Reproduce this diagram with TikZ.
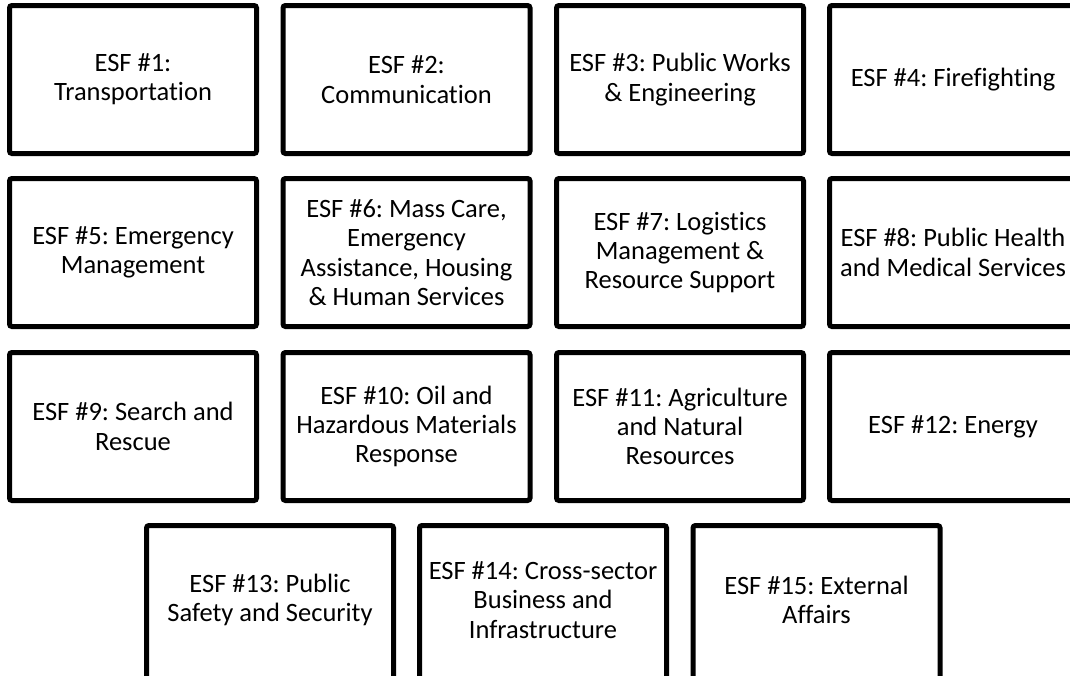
\documentclass[tikz,border=0pt]{standalone}
\usepackage{fontspec}
\setmainfont{Carlito}[Ligatures={NoCommon}]
\begin{document}
\frenchspacing
\begin{tikzpicture}[x=1pt,y=-1pt,
  esffont/.style={align=center, font=\fontsize{26.5}{29.3}\selectfont},
  esfbox/.style={draw=black, line width=5pt, rounded corners=2.5pt,
    minimum width=247pt, minimum height=148pt, inner sep=0pt, outer sep=0pt,
    esffont},
  esflow/.style={esfbox, minimum height=155pt},
  esftext/.style={esffont, inner sep=0pt}]
\useasboundingbox (0,0) rectangle (1070,675);
\fill[white] (0,0) rectangle (1070,675);
\begin{scope}
\clip (0,0) rectangle (1070,675);
% row 1
\node[esfbox] (e1) at (133,79.5) {ESF \#1:\\Transportation};
\node[esfbox] (e2) at (406.5,79.5) {ESF \#2:\\Communication};
\node[esfbox] (e3) at (680,79.5) {ESF \#3: Public Works\\\& Engineering};
\node[esfbox] (e4) at (953,79.5) {ESF \#4: Firefighting};
% row 2
\node[esfbox] (e5) at (133,252.5) {ESF \#5: Emergency\\Management};
\node[esfbox] (e6) at (406.5,252.5) {ESF \#6: Mass Care,\\Emergency\\Assistance, Housing\\\& Human Services};
\node[esfbox] (e7) at (680,252.5) {ESF \#7: Logistics\\Management \&\\Resource Support};
\node[esfbox] (e8) at (953,252.5) {ESF \#8: Public Health\\and Medical Services};
% row 3
\node[esfbox] (e9) at (133,426.5) {ESF \#9: Search and\\Rescue};
\node[esfbox] (e10) at (406.5,426.5) {ESF \#10: Oil and\\Hazardous Materials\\Response};
\node[esfbox] (e11) at (680,426.5) {ESF \#11: Agriculture\\and Natural\\Resources};
\node[esfbox] (e12) at (953,426.5) {ESF \#12: Energy};
% row 4 (boxes run past the bottom edge)
\node[esflow] (e13) at (270,603) {};
\node[esflow] (e14) at (543,603) {};
\node[esflow] (e15) at (816.5,603) {};
\node[esftext] (t13) at ([yshift=3pt]e13.center) {ESF \#13: Public\\Safety and Security};
\node[esftext] (t14) at ([yshift=3pt]e14.center) {ESF \#14: Cross-sector\\Business and\\Infrastructure};
\node[esftext] (t15) at ([yshift=3pt]e15.center) {ESF \#15: External\\Affairs};
\end{scope}
\end{tikzpicture}
\end{document}
